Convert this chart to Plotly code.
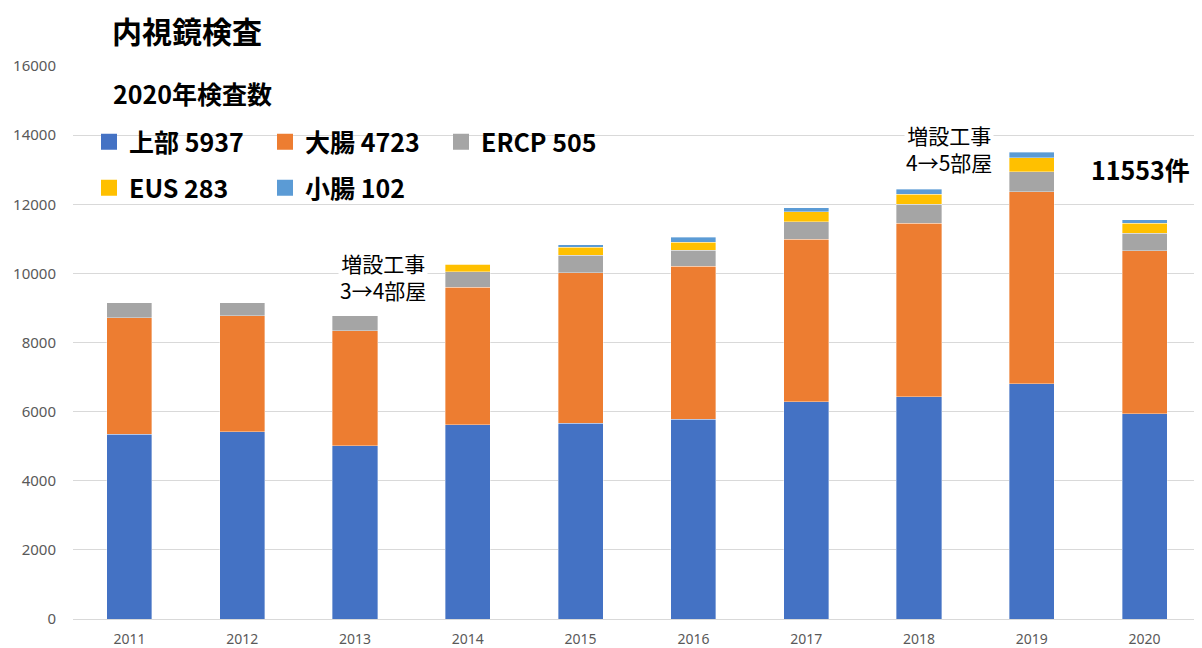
import plotly.graph_objects as go

years = ['2011', '2012', '2013', '2014', '2015', '2016', '2017', '2018', '2019', '2020']
upper = [5340, 5420, 5015, 5620, 5660, 5780, 6290, 6430, 6810, 5937]
colon = [3370, 3355, 3330, 3975, 4360, 4425, 4700, 5015, 5555, 4723]
ercp = [435, 370, 435, 450, 510, 470, 510, 550, 580, 505]
eus = [0, 0, 0, 220, 225, 230, 290, 290, 405, 283]
small = [0, 0, 0, 0, 75, 145, 105, 155, 155, 102]

series = [
    ("上部", upper, "#4472C4", "legend"),
    ("大腸", colon, "#ED7D31", "legend"),
    ("ERCP", ercp, "#A5A5A5", "legend"),
    ("EUS", eus, "#FFC000", "legend2"),
    ("小腸", small, "#5B9BD5", "legend2"),
]

JP = "Noto Sans CJK JP"
fig = go.Figure()
for name, vals, color, lg in series:
    fig.add_trace(go.Bar(
        x=years, y=vals, name=f"{name} {vals[-1]}", legendgroup=name,
        marker=dict(color=color, line=dict(width=0.6, color="rgba(255,255,255,0.6)")),
        showlegend=False,
    ))
# legend entries (larger square swatches), linked to the bars by legendgroup
for name, vals, color, lg in series:
    fig.add_trace(go.Scatter(
        x=[None], y=[None], mode="markers", name=f"{name} {vals[-1]}", legendgroup=name,
        marker=dict(symbol="square", size=17, color=color), legend=lg,
    ))

legend_common = dict(
    orientation="h", xanchor="left", yanchor="middle",
    entrywidthmode="pixels", entrywidth=131,
    font=dict(family=JP, size=25, color="#000000", weight="bold"),
    bgcolor="rgba(0,0,0,0)", traceorder="normal",
)

# page is drawn with an 8px body margin; plot area on screen: x 73..1201, y 66..619
OFF = 8
fig_w, fig_h = 1194, 640
L, R, T, B = 73, 1201, 66, 619

fig.update_layout(
    width=fig_w, height=fig_h,
    margin=dict(l=L - OFF, r=OFF + fig_w - R, t=T - OFF, b=OFF + fig_h - B, autoexpand=False),
    barmode="stack", bargap=0.6,
    plot_bgcolor="white", paper_bgcolor="white",
    legend=dict(x=(89 - L) / (R - L), y=(B - 142) / (B - T), **legend_common),
    legend2=dict(x=(89 - L) / (R - L), y=(B - 188) / (B - T), **legend_common),
    xaxis=dict(
        type="category", showgrid=False, showline=True, linecolor="#d9d9d9",
        linewidth=1, ticks="", automargin=False, ticklabelstandoff=7,
        tickfont=dict(family="Noto Sans", size=14, color="#595959"),
    ),
    yaxis=dict(
        range=[0, 16000], tickvals=list(range(0, 16001, 2000)), tickformat="d",
        showgrid=True, gridcolor="#d9d9d9", gridwidth=1, zeroline=False,
        automargin=False,
        tickfont=dict(family="Noto Sans", size=15, color="#595959"),
        ticklabelstandoff=16,
    ),
)

def px(sx):
    return (sx - L) / (R - L)

def py(sy):
    return (B - sy) / (B - T)

annotations = [
    dict(text="<b>内視鏡検査</b>", x=110, y=30, font=dict(family=JP, size=30, color="#000")),
    dict(text="<b>2020年検査数</b>", x=111, y=93, font=dict(family=JP, size=25, color="#000")),
    dict(text="<b>11553件</b>", x=1089, y=169, font=dict(family=JP, size=25, color="#000")),
]
for a in annotations:
    fig.add_annotation(
        text=a["text"], xref="paper", yref="paper", x=px(a["x"]), y=py(a["y"]),
        xanchor="left", yanchor="middle", showarrow=False, font=a["font"],
    )

# category axis: annotation x given as category index
fig.add_annotation(
    text="増設工事<br>3→4部屋", x=years.index("2013"), xshift=28, y=9910, xref="x", yref="y",
    xanchor="center", yanchor="middle", showarrow=False, align="center",
    font=dict(family=JP, size=21, color="#000"), bgcolor="white",
)
fig.add_annotation(
    text="増設工事<br>4→5部屋", x=years.index("2018"), xshift=30, y=13600, xref="x", yref="y",
    xanchor="center", yanchor="middle", showarrow=False, align="center",
    font=dict(family=JP, size=21, color="#000"), bgcolor="white",
)

fig.write_html("out.html")
